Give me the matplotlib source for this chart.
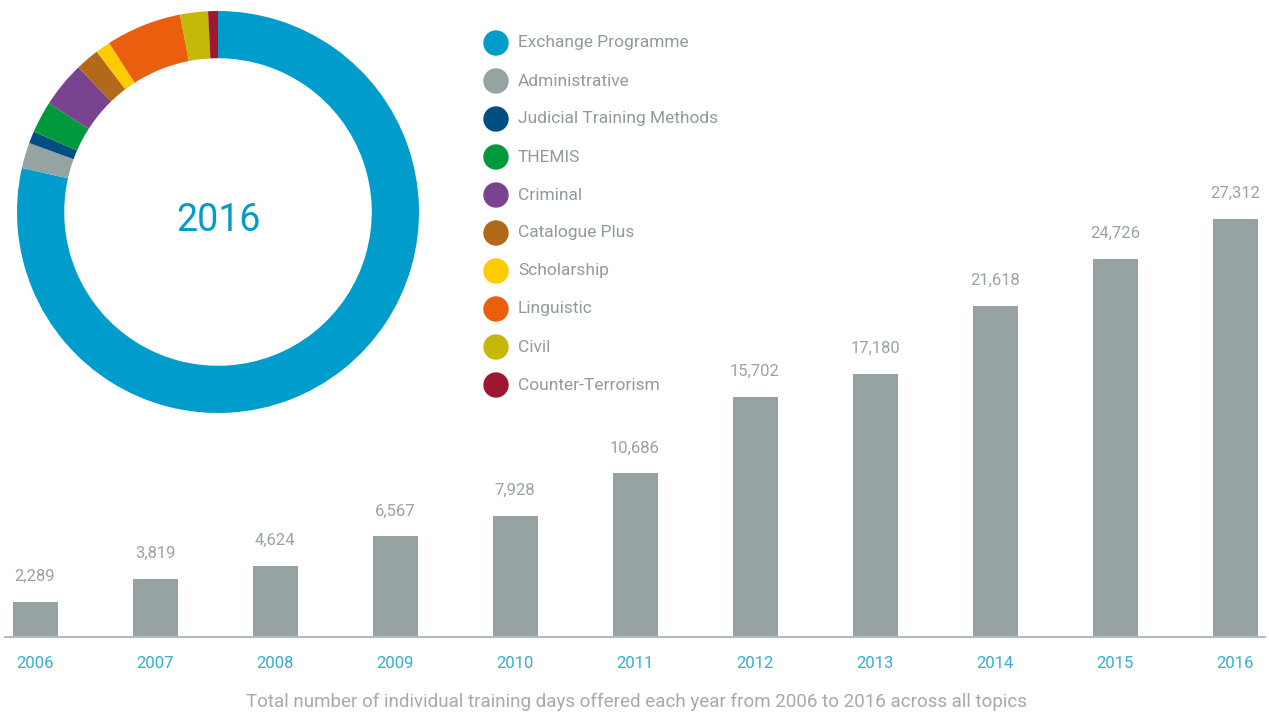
import matplotlib.pyplot as plt
import numpy as np

# bar data
years = ["2006", "2007", "2008", "2009", "2010", "2011", "2012", "2013", "2014", "2015", "2016"]
days = [2289, 3819, 4624, 6567, 7928, 10686, 15702, 17180, 21618, 24726, 27312]

# donut data (share of 2016, %)
topics = ["Exchange Programme", "Administrative", "Judicial Training Methods", "THEMIS",
          "Criminal", "Catalogue Plus", "Scholarship", "Linguistic", "Civil", "Counter-Terrorism"]
shares = [78.5, 2.06, 0.97, 2.56, 3.67, 1.92, 1.19, 6.08, 2.24, 0.79]
colors = ["#009dcc", "#95a3a2", "#004e82", "#009a3d", "#7a4390",
          "#b06a19", "#fecb00", "#ea5e0e", "#c5b808", "#9d1830"]

FONT = "Roboto"
W, H = 1269, 715

fig = plt.figure(figsize=(W / 100, H / 100), dpi=100)

# bars
base_px = 637
top_px = 150
ax = fig.add_axes([5 / W, (H - base_px) / H, 1260 / W, (base_px - top_px) / H])
ax.patch.set_visible(False)
x = np.arange(len(years))
ax.bar(x, days, width=0.375, color="#96a3a2")
ax.set_xlim(-0.25, 10.25)
ax.set_ylim(0, 27312 * (base_px - top_px) / (base_px - 219))
for xi, v in zip(x, days):
    ax.annotate(f"{v:,}", (xi, v), xytext=(0, 13), textcoords="offset points",
                ha="center", va="bottom", fontsize=12, color="#9aa3a3", family=FONT)
ax.set_xticks(x)
ax.set_xticklabels(years, fontsize=12, color="#35aed8", family=FONT)
ax.tick_params(axis="x", length=0, pad=14)
ax.set_yticks([])
for s in ["top", "right", "left"]:
    ax.spines[s].set_visible(False)
ax.spines["bottom"].set_color("#b5bcbc")
ax.spines["bottom"].set_linewidth(1.5)

fig.text(636 / W, (H - 702) / H,
         "Total number of individual training days offered each year from 2006 to 2016 across all topics",
         ha="center", va="center", fontsize=13.5, color="#a3abab", family=FONT)

# donut
r_px = 201
cx, cy = 218, 212
half = 1.02 * r_px
ax2 = fig.add_axes([(cx - half) / W, (H - cy - half) / H, 2 * half / W, 2 * half / H])
ax2.pie(shares, colors=colors, startangle=90, counterclock=False, radius=1,
        wedgeprops=dict(width=0.235, linewidth=0))
ax2.set_xlim(-1.02, 1.02)
ax2.set_ylim(-1.02, 1.02)
ax2.set_aspect("auto")
ax2.axis("off")
ax2.text(0, -0.04, "2016", ha="center", va="center", fontsize=27, color="#009dcc", family=FONT)

# legend
for i, (t, c) in enumerate(zip(topics, colors)):
    yy = 43 + 38 * i
    fig.add_artist(plt.matplotlib.patches.Ellipse((496 / W, (H - yy) / H), 24 / W, 24 / H,
                                                  color=c, transform=fig.transFigure))
    fig.text(518 / W, (H - yy) / H, t, ha="left", va="center", fontsize=12.5,
             color="#909b9b", family=FONT)

fig.savefig("out.png", dpi=100)
